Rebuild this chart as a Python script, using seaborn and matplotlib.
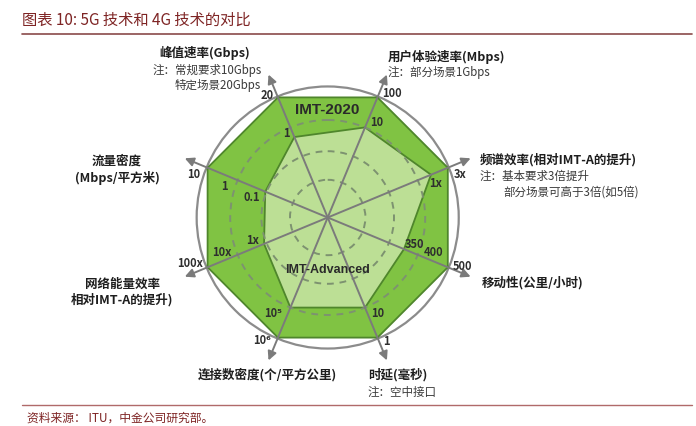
import numpy as np
import matplotlib
matplotlib.use("Agg")
import matplotlib.pyplot as plt
from matplotlib.patches import Circle
import seaborn as sns

# ---------------- data ----------------
axes_names = ["峰值速率(Gbps)", "用户体验速率(Mbps)", "频谱效率(相对IMT-A的提升)", "移动性(公里/小时)",
              "时延(毫秒)", "连接数密度(个/平方公里)", "网络能量效率\n相对IMT-A的提升)", "流量密度\n(Mbps/平方米)"]
axis_notes = [["注：常规要求10Gbps", "特定场景20Gbps"], ["注：部分场景1Gbps"],
              ["注：基本要求3倍提升", "部分场景可高于3倍(如5倍)"], [], ["注：空中接口"], [], [], []]
imt2020 = [1.0, 1.0, 1.0, 1.0, 1.0, 1.0, 1.0, 1.0]          # fraction of outer ring
imt_adv = [0.67, 0.75, 0.86, 0.635, 0.75, 0.75, 0.53, 0.52]
tick_labels = [
    [("20", 1.0), ("1", 0.67)],
    [("100", 1.0), ("10", 0.75)],
    [("3x", 1.0), ("1x", 0.86)],
    [("500", 1.0), ("400", 0.75), ("350", 0.635)],
    [("1", 1.0), ("10", 0.75)],
    [("10⁶", 1.0), ("10⁵", 0.75)],
    [("100x", 1.0), ("10x", 0.75), ("1x", 0.53)],
    [("10", 1.0), ("1", 0.75), ("0.1", 0.52)],
]
title = "图表 10: 5G 技术和 4G 技术的对比"
source = "资料来源： ITU，中金公司研究部。"
series_names = ["IMT-2020", "IMT-Advanced"]

# ---------------- style ----------------
sns.set_theme(style="white")
plt.rcParams["font.family"] = ["Noto Sans CJK SC", "DejaVu Sans"]

W, H = 696, 426
fig = plt.figure(figsize=(W / 100, H / 100), dpi=100)
ax = fig.add_axes([0, 0, 1, 1])
ax.set_xlim(0, W)
ax.set_ylim(H, 0)
ax.axis("off")

cx, cy, R = 327.7, 217.5, 130.0
angles = np.deg2rad(np.arange(8) * 45 - 22.5)   # clockwise from up


def pt(frac, k):
    return cx + frac * R * np.sin(angles[k]), cy - frac * R * np.cos(angles[k])


outer_green = "#80c343"
inner_green = "#bcdf95"
edge_green = "#4f862c"
red = "#7e2424"

# outer ring
ax.add_patch(Circle((cx, cy), R * 1.008, fill=False, ec="#8c8c8c", lw=1.6, zorder=1))

# polygons
for vals, fc, z in [(imt2020, outer_green, 2), (imt_adv, inner_green, 3)]:
    xs, ys = zip(*[pt(v, k) for k, v in enumerate(vals)])
    ax.fill(xs, ys, fc=fc, ec=edge_green, lw=1.3, zorder=z)

# dashed circles
for rr in [0.29, 0.51, 0.75]:
    ax.add_patch(Circle((cx, cy), R * rr, fill=False, ec="#7d9270", lw=1.4,
                        ls=(0, (3.5, 3)), zorder=4))

# spokes with arrows
for k in range(8):
    tip = pt(1.19, k)
    ax.annotate("", xy=tip, xytext=(cx, cy),
                arrowprops=dict(arrowstyle="-|>", color="#7b7b7b", lw=1.4,
                                mutation_scale=13, shrinkA=0, shrinkB=0),
                zorder=5)

# tick labels
tick_offsets = {
    (0, "20"): (-11, -1.5), (0, "1"): (-8, -4),
    (1, "100"): (14, -3.5), (1, "10"): (12, -5),
    (2, "3x"): (12, 7), (2, "1x"): (5, 9),
    (3, "500"): (15, -1), (3, "400"): (16, -2), (3, "350"): (11, -5),
    (4, "1"): (9, 4), (4, "10"): (13, 6),
    (5, "10⁶"): (-16, 3), (5, "10⁵"): (-17, 6),
    (6, "100x"): (-18, -4), (6, "10x"): (-16, -2), (6, "1x"): (-11, -3),
    (7, "10"): (-14, 6.5), (7, "1"): (-13, 6), (7, "0.1"): (-13, 6),
}
for k, lst in enumerate(tick_labels):
    for lab, frac in lst:
        x, y = pt(frac, k)
        dx, dy = tick_offsets[(k, lab)]
        ax.text(x + dx, y + dy, lab, fontsize=8, color="#2e2e2e", fontweight="bold",
                ha="center", va="center", zorder=6)

# series labels
ax.text(327, 110, series_names[0], fontsize=11, fontweight="bold", color="#2a2a2a",
        ha="center", va="center", zorder=6, family=["Liberation Sans", "DejaVu Sans"])
ax.text(327, 270, series_names[1], fontsize=9, fontweight="bold", color="#2a2a2a",
        ha="center", va="center", zorder=6, family=["Liberation Sans", "DejaVu Sans"])

# axis titles
title_pos = [
    (250, 53, "right"), (388, 57, "left"), (480, 160, "left"), (482, 283, "left"),
    (368, 375, "left"), (337, 375, "right"), (122, 292, "center"), (117, 170, "center"),
]
note_pos = [[(262, 70, "right"), (261, 85, "right")], [(388, 72, "left")],
            [(480, 176, "left"), (503, 192, "left")], [],
            [(368, 392, "left")], [], [], []]
for k in range(8):
    x, y, ha = title_pos[k]
    ax.text(x, y, axes_names[k], fontsize=9, fontweight="bold", color="#1e1e1e",
            ha=ha, va="center", linespacing=1.25, multialignment="center")
    for line, (nx, ny, nha) in zip(axis_notes[k], note_pos[k]):
        ax.text(nx, ny, line, fontsize=8.3, color="#3a3a3a", ha=nha, va="center")

# header / footer
ax.text(22, 20, title, fontsize=11, color=red, ha="left", va="center", style="italic")
ax.plot([22, 692], [34, 34], color="#8a4a4a", lw=1.2)
ax.plot([22, 692], [404.5, 404.5], color="#b06a6a", lw=1.0)
ax.text(27, 418, source, fontsize=8.5, color=red, ha="left", va="center", style="italic")

fig.savefig("out.png", dpi=100)
